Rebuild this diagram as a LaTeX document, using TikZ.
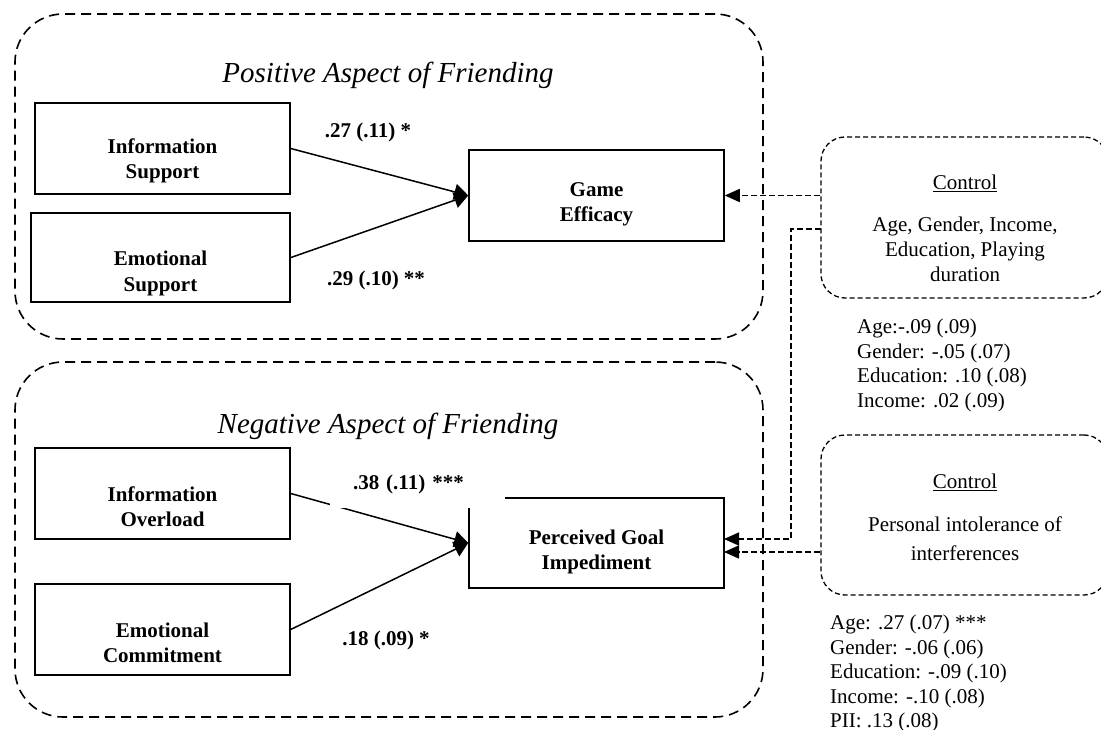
\documentclass[tikz,border=0pt]{standalone}
\usepackage{fontspec}
\setmainfont{Liberation Serif}
\usetikzlibrary{arrows.meta}

\tikzset{
	groupbox/.style={draw, dash pattern=on 10pt off 6pt, line width=1.6pt, rounded corners=48pt, minimum width=748pt},
	grouptitle/.style={font=\fontsize{29}{34}\selectfont\itshape},
	varbox/.style={draw, line width=1.5pt, minimum width=255pt, minimum height=91pt, align=center, font=\fontsize{21}{25}\selectfont\bfseries},
	lowtext/.style={text height=#1, text depth=5pt, inner ysep=0pt},
	effect/.style={-{Triangle[length=14pt,width=16pt]}, line width=1.5pt},
	coef/.style={font=\fontsize{21}{25}\selectfont\bfseries},
	ctrlbox/.style={draw, dash pattern=on 5pt off 3pt, line width=1.3pt, rounded corners=24pt, minimum width=287pt},
	ctrltext/.style={align=center, font=\fontsize{21}{25}\selectfont},
	ctrlarrow/.style={-{Triangle[length=15pt,width=13pt]}, dash pattern=on 6pt off 3pt, line width=1.6pt},
	stats/.style={align=left, anchor=north west, inner sep=0pt, font=\fontsize{21}{24.5}\selectfont}
}

\begin{document}
\begin{tikzpicture}[x=1pt, y=-1pt]
	\useasboundingbox (0,0) rectangle (1101,730);

	% positive side
	\node (PosGroup) [groupbox, minimum height=325pt] at (389, 176.5) {};
	\node (PosTitle) [grouptitle] at (388, 75) {Positive Aspect of Friending};
	\node (InfoSup) [varbox, lowtext=66pt] at (162.5, 148.5) {Information\\Support};
	\node (EmoSup) [varbox, lowtext=72pt, minimum width=259pt, minimum height=89pt, line width=1.9pt] at (160.5, 257.5) {Emotional\\Support};
	\node (GameEff) [varbox, lowtext=58pt] at (596.5, 195.5) {Game\\Efficacy};
	\draw [effect] (InfoSup.east) -- (GameEff.west);
	\draw [effect] (EmoSup.east) -- (GameEff.west);
	\node (CoefInfoSup) [coef] at (368, 132) {.27 (.11) *};
	\node (CoefEmoSup) [coef] at (376, 280) {.29 (.10) **};

	% negative side
	\node (NegGroup) [groupbox, minimum height=355pt] at (389, 539.5) {};
	\node (NegTitle) [grouptitle] at (388, 426) {Negative Aspect of Friending};
	\node (InfoOver) [varbox, lowtext=70pt] at (162.5, 493.5) {Information\\Overload};
	\node (EmoCom) [varbox, lowtext=70pt] at (162.5, 629.5) {Emotional\\Commitment};
	\node (GoalImp) [varbox, lowtext=57pt, minimum height=90pt] at (596.5, 543) {Perceived Goal\\Impediment};
	\draw [effect] (InfoOver.east) -- (GoalImp.west);
	\draw [effect] (EmoCom.east) -- (GoalImp.west);
	\node (CoefInfoOver) [coef, fill=white, text width=129pt, inner xsep=23pt, minimum height=48pt] at (417.5, 484) {.38 (.11) ***};
	\node (CoefEmoCom) [coef] at (386, 640) {.18 (.09) *};

	% controls
	\node (Ctrl1) [ctrlbox, minimum height=161pt] at (964.5, 217.5) {};
	\node (Ctrl1Head) [ctrltext] at (965, 183) {\underline{Control}};
	\node (Ctrl1Body) [ctrltext] at (965, 249) {Age, Gender, Income,\\Education, Playing\\duration};
	\node (Stats1) [stats] at (857, 319) {Age:-.09 (.09)\\Gender: -.05 (.07)\\Education: .10 (.08)\\Income: .02 (.09)};

	\node (Ctrl2) [ctrlbox, minimum height=160pt] at (964.5, 515) {};
	\node (Ctrl2Head) [ctrltext] at (965, 482) {\underline{Control}};
	\node (Ctrl2Body) [ctrltext, font=\fontsize{21}{29}\selectfont] at (965, 539) {Personal intolerance of\\interferences};
	\node (Stats2) [stats] at (830, 615) {Age: .27 (.07) ***\\Gender: -.06 (.06)\\Education: -.09 (.10)\\Income: -.10 (.08)\\PII: .13 (.08)};

	\coordinate (Ctrl1Out) at (821, 229);
	\coordinate (GoalIn1) at (724, 539);
	\coordinate (GoalIn2) at (724, 552);
	\draw [ctrlarrow] (GameEff.east -| Ctrl1.west) -- (GameEff.east);
	\draw [ctrlarrow] (Ctrl1Out) -- ++(-30,0) |- (GoalIn1);
	\draw [ctrlarrow] (GoalIn2 -| Ctrl2.west) -- (GoalIn2);
\end{tikzpicture}
\end{document}
